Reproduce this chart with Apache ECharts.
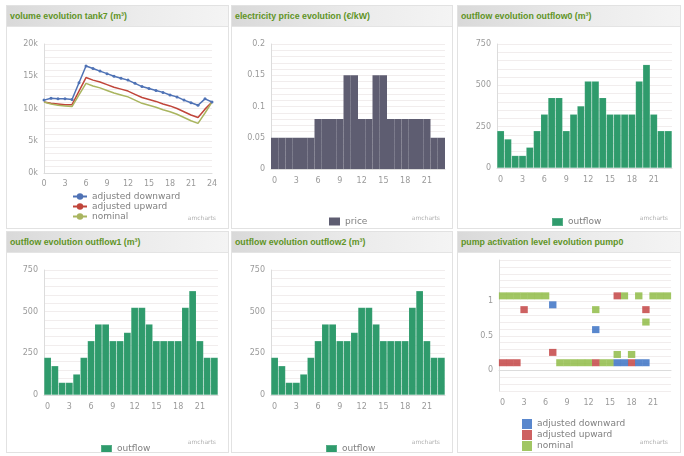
<!DOCTYPE html>
<html>
<head>
<meta charset="utf-8">
<script src="https://cdn.jsdelivr.net/npm/echarts@6/dist/echarts.min.js"></script>
<style>
  body { margin: 0; background: #fff; width: 684px; height: 456px; overflow: hidden; }
  .panel { position: absolute; border: 1px solid #e2e2e2; box-sizing: border-box; background: #fff; }
  .head {
    position: absolute; left: 0; top: 0; right: 0; height: 20px;
    background: linear-gradient(to right, #d9d9d9, #ececec 60%, #f4f4f4);
    border-bottom: 1px solid #e4e4e4;
    font: bold 8.8px 'Liberation Sans', sans-serif; color: #5f9426;
    line-height: 20px; padding-left: 3px; white-space: nowrap;
  }
  .chart { position: absolute; left: 0; right: 0; top: 20px; bottom: 0; }
</style>
</head>
<body>
<div class="panel" style="left:6px;top:5px;width:223px;height:224px"><div class="head">volume evolution tank7 (m³)</div><div class="chart" id="c1"></div></div>
<div class="panel" style="left:231px;top:5px;width:222px;height:224px"><div class="head">electricity price evolution (€/kW)</div><div class="chart" id="c2"></div></div>
<div class="panel" style="left:457px;top:5px;width:224px;height:224px"><div class="head">outflow evolution outflow0 (m³)</div><div class="chart" id="c3"></div></div>
<div class="panel" style="left:6px;top:231px;width:223px;height:222px"><div class="head">outflow evolution outflow1 (m³)</div><div class="chart" id="c4"></div></div>
<div class="panel" style="left:231px;top:231px;width:222px;height:222px"><div class="head">outflow evolution outflow2 (m³)</div><div class="chart" id="c5"></div></div>
<div class="panel" style="left:457px;top:231px;width:224px;height:222px"><div class="head">pump activation level evolution pump0</div><div class="chart" id="c6"></div></div>

<script>
// hours of the day
var hours = ['0', '1', '2', '3', '4', '5', '6', '7', '8', '9', '10', '11', '12', '13', '14', '15', '16', '17', '18', '19', '20', '21', '22', '23']

// tank7 volume (m3), hourly 0..24
var volHours = [0, 1, 2, 3, 4, 5, 6, 7, 8, 9, 10, 11, 12, 13, 14, 15, 16, 17, 18, 19, 20, 21, 22, 23, 24]
var volDownward = [11300, 11600, 11500, 11500, 11400, 14000, 16600, 16200, 15800, 15400, 15000, 14700, 14400, 13900, 13400, 13100, 12800, 12500, 12100, 11800, 11300, 10900, 10500, 11500, 11000]
var volUpward = [11000, 10800, 10700, 10600, 10600, 12700, 14800, 14400, 14100, 13700, 13300, 13000, 12700, 12200, 11700, 11400, 11100, 10700, 10400, 10000, 9500, 9000, 8600, 9900, 11000]
var volNominal = [11000, 10700, 10500, 10400, 10300, 12100, 13900, 13500, 13200, 12800, 12400, 12100, 11800, 11300, 10800, 10500, 10200, 9800, 9500, 9100, 8600, 8100, 7700, 9300, 11000]

// electricity price
var price = [0.05, 0.05, 0.05, 0.05, 0.05, 0.05, 0.08, 0.08, 0.08, 0.08, 0.15, 0.15, 0.08, 0.08, 0.15, 0.15, 0.08, 0.08, 0.08, 0.08, 0.08, 0.08, 0.05, 0.05]

// outflows (m3)
var outflow0 = [225, 175, 75, 75, 125, 225, 325, 425, 425, 225, 325, 375, 525, 525, 425, 325, 325, 325, 325, 525, 625, 325, 225, 225]
var outflow1 = [225, 175, 75, 75, 125, 225, 325, 425, 425, 325, 325, 375, 525, 525, 425, 325, 325, 325, 325, 525, 625, 325, 225, 225]
var outflow2 = [225, 175, 75, 75, 125, 225, 325, 425, 425, 325, 325, 375, 525, 525, 425, 325, 325, 325, 325, 525, 625, 325, 225, 225]

// pump0 activation level (null = not drawn)
var pumpDownward = [null, null, null, null, null, null, null, 0.95, null, null, null, null, null, 0.59, null, null, 0.11, 0.11, null, 0.11, 0.11, null, null, null]
var pumpUpward = [0.11, 0.11, 0.11, 0.88, null, null, null, 0.26, null, null, null, null, null, 0.11, null, null, 1.08, null, 0.11, null, 0.88, null, null, null]
var pumpNominal = [1.08, 1.08, 1.08, 1.08, 1.08, 1.08, 1.08, null, 0.11, 0.11, 0.11, 0.11, 0.11, 0.88, 0.11, 0.11, 0.23, 1.08, 0.23, 1.08, 0.70, 1.08, 1.08, 1.08]

var FONT = 'DejaVu Sans'
var labelColor = '#9a9a9a'
var gridColor = '#f1eded'
var axisColor = '#dcdcdc'

var watermark = {
  type: 'text', right: 12, bottom: 7,
  style: { text: 'amcharts', fontSize: 6, fill: '#b0b0b0', fontFamily: FONT }
}

function onStep(step, fmt) {
  return function (v) {
    var k = v / step
    return Math.abs(k - Math.round(k)) < 1e-6 ? fmt(v) : ''
  }
}

function pairs(xs, ys) {
  return xs.map(function (x, i) { return [x, ys[i]] })
}

function yAxisBase(min, max, interval, formatter) {
  return {
    type: 'value', min: min, max: max, interval: interval,
    axisLine: { show: true, lineStyle: { color: axisColor } },
    axisTick: { show: false },
    axisLabel: { color: labelColor, fontSize: 8, fontFamily: FONT, margin: 6, formatter: formatter },
    splitLine: { lineStyle: { color: gridColor, width: 1 } }
  }
}

function catAxis() {
  return {
    type: 'category', data: hours,
    axisLine: { show: true, lineStyle: { color: axisColor } },
    axisTick: { show: false },
    axisLabel: { color: labelColor, fontSize: 8, fontFamily: FONT, interval: 2, margin: 8 }
  }
}

// panel 1: volume lines
var c1 = echarts.init(document.getElementById('c1'))
c1.setOption({
  animation: false,
  grid: { left: 37, right: 16, top: 18, bottom: 55 },
  xAxis: {
    type: 'value', min: 0, max: 24, interval: 3,
    axisLine: { show: true, lineStyle: { color: axisColor } },
    axisTick: { show: false },
    splitLine: { show: false },
    axisLabel: { color: labelColor, fontSize: 8, fontFamily: FONT, margin: 7 }
  },
  yAxis: yAxisBase(0, 20000, 1000, onStep(5000, function (v) { return v / 1000 + 'k' })),
  legend: {
    orient: 'vertical', left: 60, top: 161, itemGap: 1, itemWidth: 14, itemHeight: 8,
    textStyle: { color: '#808080', fontSize: 9, fontFamily: FONT, lineHeight: 9 },
    data: ['adjusted downward', 'adjusted upward', 'nominal']
  },
  graphic: [watermark],
  series: [
    { name: 'adjusted downward', type: 'line', data: pairs(volHours, volDownward), symbol: 'circle', symbolSize: 3, color: '#4f72b5', lineStyle: { width: 1.5 } },
    { name: 'adjusted upward', type: 'line', data: pairs(volHours, volUpward), symbol: 'none', color: '#c0453a', lineStyle: { width: 1.5 } },
    { name: 'nominal', type: 'line', data: pairs(volHours, volNominal), symbol: 'none', color: '#a9b55f', lineStyle: { width: 1.5 } }
  ]
})

// panel 2: electricity price bars
var c2 = echarts.init(document.getElementById('c2'))
c2.setOption({
  animation: false,
  grid: { left: 39, right: 7, top: 18, bottom: 59 },
  xAxis: catAxis(),
  yAxis: yAxisBase(0, 0.2, 0.01, onStep(0.05, function (v) { return String(parseFloat(v.toFixed(2))) })),
  legend: {
    left: 92, top: 186, itemWidth: 11, itemHeight: 8,
    textStyle: { color: '#808080', fontSize: 9, fontFamily: FONT },
    data: [{ name: 'price', icon: 'rect' }]
  },
  graphic: [watermark],
  series: [{ name: 'price', type: 'bar', data: price, barCategoryGap: 0, color: '#5e5d71' }]
})

// panels 3-5: outflow bars
function outflowChart(id, values, grid, legendLeft, legendTop) {
  var chart = echarts.init(document.getElementById(id))
  chart.setOption({
    animation: false,
    grid: grid,
    xAxis: catAxis(),
    yAxis: yAxisBase(0, 750, 50, onStep(250, function (v) { return String(v) })),
    legend: {
      left: legendLeft, top: legendTop, itemWidth: 11, itemHeight: 8,
      textStyle: { color: '#808080', fontSize: 9, fontFamily: FONT },
      data: [{ name: 'outflow', icon: 'rect' }]
    },
    graphic: [watermark],
    series: [{
      name: 'outflow', type: 'bar', data: values, barCategoryGap: 0, color: '#2f9b6c',
      itemStyle: { borderColor: 'rgba(255,255,255,0.18)', borderWidth: 0.5 }
    }]
  })
  return chart
}
outflowChart('c3', outflow0, { left: 39, right: 8, top: 18, bottom: 60 }, 88, 186)
outflowChart('c4', outflow1, { left: 37, right: 10, top: 18, bottom: 57 }, 88, 187)
outflowChart('c5', outflow2, { left: 39, right: 7, top: 18, bottom: 57 }, 88, 187)

// panel 6: pump activation level
var c6 = echarts.init(document.getElementById('c6'))
var cell = [7.4, 7]
c6.setOption({
  animation: false,
  grid: { left: 41, right: 9, top: 8, bottom: 61 },
  xAxis: catAxis(),
  yAxis: yAxisBase(-0.3, 1.6, 0.1, function (v) {
    var k = v * 2
    if (v < -1e-6 || v > 1 + 1e-6 || Math.abs(k - Math.round(k)) > 1e-6) return ''
    return String(parseFloat(v.toFixed(1)))
  }),
  legend: {
    orient: 'vertical', left: 64, top: 167, padding: 0, itemGap: 1, itemWidth: 10, itemHeight: 10,
    textStyle: { color: '#808080', fontSize: 9, fontFamily: FONT, lineHeight: 10 },
    data: [{ name: 'adjusted downward', icon: 'rect' }, { name: 'adjusted upward', icon: 'rect' }, { name: 'nominal', icon: 'rect' }]
  },
  graphic: [watermark],
  series: [
    { name: 'nominal', type: 'scatter', data: pumpNominal, symbol: 'rect', symbolSize: cell, color: '#8ab83c' },
    { name: 'adjusted upward', type: 'scatter', data: pumpUpward, symbol: 'rect', symbolSize: cell, color: '#c0393a' },
    { name: 'adjusted downward', type: 'scatter', data: pumpDownward, symbol: 'rect', symbolSize: cell, color: '#3069c0' }
  ]
})
</script>
</body>
</html>
